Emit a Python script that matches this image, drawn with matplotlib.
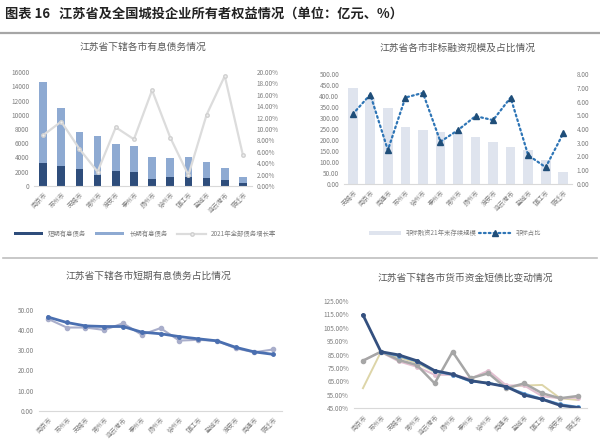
"""
江苏省及全国城投企业所有者权益情况 (four small panels).
"""
import matplotlib
matplotlib.use("Agg")
import matplotlib.pyplot as plt
from matplotlib.lines import Line2D
import numpy as np

plt.rcParams["font.family"] = ["Noto Sans CJK SC", "DejaVu Sans"]

# ---- panel 1: interest-bearing debt by city ----
debt_cities = ["南京市", "苏州市", "无锡市", "常州市", "淮安市", "泰州市", "扬州市",
               "徐州市", "镇江市", "盐城市", "连云港市", "宿迁市"]
short_debt = [3270, 2850, 2340, 1540, 2150, 1920, 980, 1220, 1310, 1080, 840, 380]
total_debt = [14600, 10950, 7620, 7020, 5850, 5600, 4110, 3880, 4030, 3410, 2570, 1310]
debt_growth = [8.9, 11.3, 6.5, 2.5, 10.3, 8.2, 16.8, 8.5, 1.9, 12.5, 19.3, 5.4]

# ---- panel 2: non-standard financing ----
nonstd_cities = ["无锡市", "南京市", "南通市", "苏州市", "徐州市", "泰州市", "常州市",
                 "扬州市", "淮安市", "连云港市", "盐城市", "镇江市", "宿迁市"]
nonstd_scale = [436, 390, 344, 260, 245, 235, 230, 215, 189, 169, 154, 108, 52]
nonstd_share = [5.09, 6.52, 2.46, 6.30, 6.64, 3.07, 3.92, 4.94, 4.65, 6.30, 2.09, 1.20, 3.68]

# ---- panel 3: short-term debt share ----
share_cities = ["南京市", "苏州市", "无锡市", "常州市", "连云港市", "泰州市", "扬州市",
                "徐州市", "镇江市", "盐城市", "淮安市", "南通市", "宿迁市"]
share_a = [46.5, 43.8, 42.1, 41.8, 41.8, 39.0, 38.2, 36.8, 35.7, 34.7, 31.5, 29.2, 28.0]
share_b = [45.6, 41.3, 41.3, 40.1, 43.4, 37.7, 41.0, 34.8, 35.2, 34.7, 31.0, 29.0, 30.4]

# ---- panel 4: cash / short-term debt ratio ----
cash_cities = ["南京市", "苏州市", "无锡市", "常州市", "连云港市", "扬州市", "泰州市",
               "徐州市", "南通市", "盐城市", "镇江市", "淮安市", "宿迁市"]
cash_navy = [114.6, 87.2, 84.8, 80.5, 73.1, 70.4, 65.6, 63.6, 61.1, 54.9, 51.7, 47.2, 45.5]
cash_blue = [np.nan, 87.0, 84.0, 80.0, 72.5, 70.0, 65.0, 64.0, 61.0, 56.0, 52.0, 48.0, 46.0]
cash_gray = [80.5, 87.2, 81.0, 77.3, 63.6, 87.2, 67.4, 71.1, 59.9, 63.6, 56.2, 52.5, 54.2]
cash_pink = [80.5, 87.0, 80.0, 76.0, 70.0, 70.0, 67.0, 73.1, 62.0, 62.0, 54.0, 52.5, 53.0]
cash_yellow = [60.0, 87.0, 83.0, 79.0, 72.0, 70.0, 66.0, 64.0, 61.0, 62.0, 62.4, 52.5, 51.2]

TICK = "#7f7f7f"
TITLE = "#595959"
AXIS = "#d9d9d9"
FS = 4.6


def style(ax, labels):
    for s in ("top", "right", "left"):
        ax.spines[s].set_visible(False)
    ax.spines["bottom"].set_color(AXIS)
    ax.tick_params(length=0, labelsize=FS, colors=TICK)
    ax.set_xticks(range(len(labels)))
    ax.set_xticklabels(labels, rotation=45, ha="right", rotation_mode="anchor")
    ax.set_xlim(-0.5, len(labels) - 0.5)


fig = plt.figure(figsize=(6, 4.48), dpi=100)
fig.text(0.008, 0.985, "图表 16   江苏省及全国城投企业所有者权益情况（单位：亿元、%）",
         fontsize=9.5, fontweight="bold", color="#222222", va="top")
fig.add_artist(Line2D([0, 1], [1 - 33 / 448] * 2, color="#a6a6a6", lw=1.6))
fig.add_artist(Line2D([0.005, 0.995], [1 - 258 / 448] * 2, color="#bfbfbf", lw=1.2))

# panel 1
ax1 = fig.add_axes([34 / 600, 1 - 186 / 448, 218 / 600, 114 / 448])
x = np.arange(len(debt_cities))
long_debt = [t - s for t, s in zip(total_debt, short_debt)]
ax1.bar(x, short_debt, width=0.42, color="#2e4d7b", label="短期有息债务")
ax1.bar(x, long_debt, width=0.42, bottom=short_debt, color="#8eaad2", label="长期有息债务")
style(ax1, debt_cities)
ax1.set_ylim(0, 16000)
ax1.set_yticks(range(0, 16001, 2000))
ax1r = ax1.twinx()
ax1r.plot(x, debt_growth, color="#dcdcdc", lw=1.6, marker="o", ms=2.5,
          mfc="#eeeeee", mec="#d0d0d0", label="2021年全部债务增长率")
ax1r.set_ylim(0, 20)
ax1r.set_yticks(range(0, 21, 2))
ax1r.set_yticklabels([f"{v:.2f}%" for v in range(0, 21, 2)])
ax1r.tick_params(length=0, labelsize=FS, colors=TICK)
for s in ax1r.spines.values():
    s.set_visible(False)
fig.text(143 / 600, 1 - 47 / 448, "江苏省下辖各市有息债务情况", fontsize=7, color=TITLE,
         ha="center", va="center")
h1, l1 = ax1.get_legend_handles_labels()
h2, l2 = ax1r.get_legend_handles_labels()
fig.legend(h1 + h2, l1 + l2, loc="center", bbox_to_anchor=(145 / 600, 1 - 234 / 448),
           ncol=3, frameon=False, fontsize=FS, labelcolor=TICK, handlelength=4.5,
           handleheight=0.4, columnspacing=1.5)

# panel 2
ax2 = fig.add_axes([344 / 600, 1 - 183.7 / 448, 228 / 600, 109.4 / 448])
x = np.arange(len(nonstd_cities))
ax2.bar(x, nonstd_scale, width=0.55, color="#dfe4ee", label="非标融资21年末存续规模")
style(ax2, nonstd_cities)
ax2.set_ylim(0, 500)
ax2.set_yticks(range(0, 501, 50))
ax2.set_yticklabels([f"{v:.2f}" for v in range(0, 501, 50)])
ax2r = ax2.twinx()
ax2r.plot(x, nonstd_share, color="#2e75b6", lw=1.6, ls=(0, (0.8, 1.4)),
          dash_capstyle="round", marker="^", ms=4, mfc="#1f4e79", mec="#1f4e79",
          label="非标占比")
ax2r.set_ylim(0, 8)
ax2r.set_yticks(range(0, 9))
ax2r.set_yticklabels([f"{v:.2f}" for v in range(0, 9)])
ax2r.tick_params(length=0, labelsize=FS, colors=TICK)
for s in ax2r.spines.values():
    s.set_visible(False)
fig.text(458 / 600, 1 - 48 / 448, "江苏省各市非标融资规模及占比情况", fontsize=7,
         color=TITLE, ha="center", va="center")
h1, l1 = ax2.get_legend_handles_labels()
h2, l2 = ax2r.get_legend_handles_labels()
fig.legend(h1 + h2, l1 + l2, loc="center", bbox_to_anchor=(455 / 600, 1 - 233 / 448),
           ncol=2, frameon=False, fontsize=FS, labelcolor=TICK, handlelength=5,
           columnspacing=0.3)

# panel 3
ax3 = fig.add_axes([38.6 / 600, 1 - 410.7 / 448, 243.8 / 600, 100.7 / 448])
x = np.arange(len(share_cities))
ax3.plot(x, share_b, color="#a9aecb", lw=1.5, marker="o", ms=3)
ax3.plot(x, share_a, color="#4a6fb0", lw=2, marker="o", ms=2.5)
style(ax3, share_cities)
ax3.set_ylim(0, 50)
ax3.set_yticks(range(0, 51, 10))
ax3.set_yticklabels([f"{v:.2f}" for v in range(0, 51, 10)])
fig.text(148 / 600, 1 - 276 / 448, "江苏省下辖各市短期有息债务占比情况", fontsize=7,
         color=TITLE, ha="center", va="center")

# panel 4
ax4 = fig.add_axes([354 / 600, 1 - 408.3 / 448, 233 / 600, 107.3 / 448])
x = np.arange(len(cash_cities))
ax4.plot(x, cash_yellow, color="#ddd5a8", lw=1.4)
ax4.plot(x, cash_pink, color="#e2bfd0", lw=1.5, marker="o", ms=2.5)
ax4.plot(x, cash_gray, color="#a6a6a6", lw=1.8, marker="o", ms=3)
ax4.plot(x, cash_blue, color="#5b9bd5", lw=1.5, marker="o", ms=2.5)
ax4.plot(x, cash_navy, color="#34507f", lw=2, marker="o", ms=2.5)
style(ax4, cash_cities)
ax4.set_ylim(45, 125)
ax4.set_yticks(range(45, 126, 10))
ax4.set_yticklabels([f"{v:.2f}%" for v in range(45, 126, 10)])
fig.text(465 / 600, 1 - 278 / 448, "江苏省下辖各市货币资金短债比变动情况", fontsize=7,
         color=TITLE, ha="center", va="center")

fig.savefig("out.png", dpi=100)
